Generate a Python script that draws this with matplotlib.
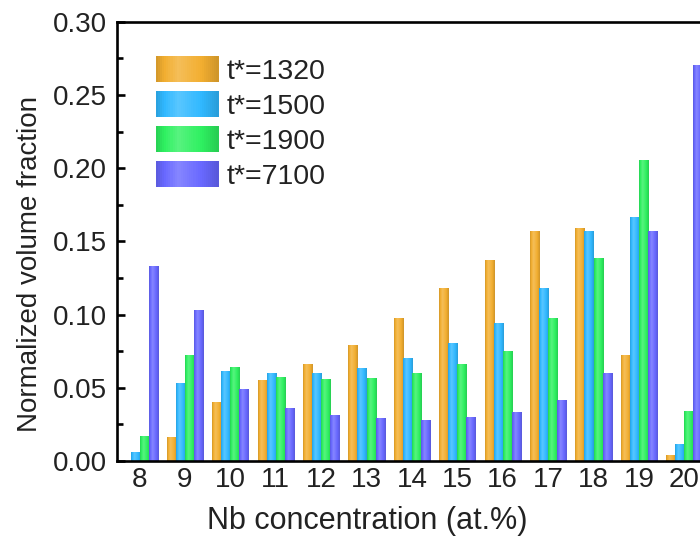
import numpy as np
import matplotlib
matplotlib.use("Agg")
import matplotlib.pyplot as plt
from matplotlib.patches import Rectangle
from matplotlib.legend_handler import HandlerBase
from matplotlib.colors import to_rgb

plt.rcParams['font.family'] = ['Liberation Sans', 'DejaVu Sans']

# Daten
nb = [8, 9, 10, 11, 12, 13, 14, 15, 16, 17, 18, 19, 20]
labels = ['t*=1320', 't*=1500', 't*=1900', 't*=7100']
t1320 = [0.000, 0.016, 0.040, 0.055, 0.066, 0.079, 0.097, 0.118, 0.137, 0.157, 0.159, 0.072, 0.0036]
t1500 = [0.0057, 0.053, 0.061, 0.060, 0.060, 0.063, 0.070, 0.080, 0.094, 0.118, 0.157, 0.166, 0.011]
t1900 = [0.0166, 0.072, 0.064, 0.057, 0.0556, 0.0565, 0.060, 0.066, 0.075, 0.097, 0.1385, 0.2055, 0.0337]
t7100 = [0.133, 0.103, 0.049, 0.036, 0.031, 0.029, 0.028, 0.030, 0.033, 0.0415, 0.060, 0.1565, 0.270]
series = [t1320, t1500, t1900, t7100]
colors = ['#F2AE30', '#30B8FF', '#2EF060', '#6868FF']


def gradient_colors(base, n=24):
    # dunkler Rand, heller Streifen etwas links der Mitte
    t = np.linspace(0, 1, n)
    w = np.interp(t, [0, 0.35, 1], [-0.12, 0.2, -0.14])
    c = np.array(to_rgb(base))
    out = []
    for wi in w:
        if wi >= 0:
            out.append(c + (1 - c) * wi)
        else:
            out.append(c * (1 + wi))
    return np.clip(np.array(out), 0, 1)


class GradientHandler(HandlerBase):
    def __init__(self, base):
        super().__init__()
        self.base = base

    def create_artists(self, legend, orig_handle, xdescent, ydescent,
                       width, height, fontsize, trans):
        cols = gradient_colors(self.base, 30)
        n = len(cols)
        arts = []
        for i, c in enumerate(cols):
            r = Rectangle((-xdescent + width * i / n, -ydescent), width / n * 1.05, height,
                          facecolor=c, edgecolor='none', transform=trans)
            arts.append(r)
        return arts


fig = plt.figure(figsize=(7, 5.45), dpi=100)
ax = fig.add_axes([0.167, 0.154, 0.843, 0.806])

x = np.array(nb)
w = 0.2
handles = []
for k, (vals, col) in enumerate(zip(series, colors)):
    bars = ax.bar(x + (k - 1.5) * w, vals, width=w, color='none', edgecolor='none', zorder=2)
    img = gradient_colors(col, 24)[np.newaxis, :, :]
    for b in bars:
        if b.get_height() <= 0:
            continue
        ax.imshow(img, extent=(b.get_x(), b.get_x() + b.get_width(), 0, b.get_height()),
                  aspect='auto', interpolation='bilinear', zorder=2)
    handles.append(Rectangle((0, 0), 1, 1))

ax.set_xlim(7.5, 20.5)
ax.set_ylim(0, 0.30)
ax.set_xticks(nb)
ax.set_yticks(np.arange(0, 0.301, 0.05))
ax.set_yticks(np.arange(0.025, 0.3, 0.05), minor=True)
ax.yaxis.set_major_formatter(matplotlib.ticker.FormatStrFormatter('%.2f'))

for s in ax.spines.values():
    s.set_linewidth(1.9)
ax.tick_params(axis='both', which='major', direction='in', length=6, width=1.9,
               labelsize=20, labelcolor='#222222')
ax.tick_params(axis='y', which='major', pad=7)
ax.tick_params(axis='y', which='minor', direction='in', length=4, width=1.9)
ax.tick_params(axis='x', which='major', length=5, pad=4)

ax.set_xlabel('Nb concentration (at.%)', fontsize=22, color='#222222')
ax.set_ylabel('Normalized volume fraction', fontsize=20, color='#222222')
ax.xaxis.set_label_coords(0.425, -0.103)
ax.yaxis.set_label_coords(-0.125, 0.448)

ax.legend(handles, labels,
          handler_map={h: GradientHandler(c) for h, c in zip(handles, colors)},
          loc='upper left', bbox_to_anchor=(0.066, 0.922), frameon=False,
          fontsize=20.5, handlelength=2.2, handleheight=1.02, labelspacing=0.22,
          handletextpad=0.3, borderpad=0, borderaxespad=0, labelcolor='#222222')

fig.savefig('out.png', dpi=100)
